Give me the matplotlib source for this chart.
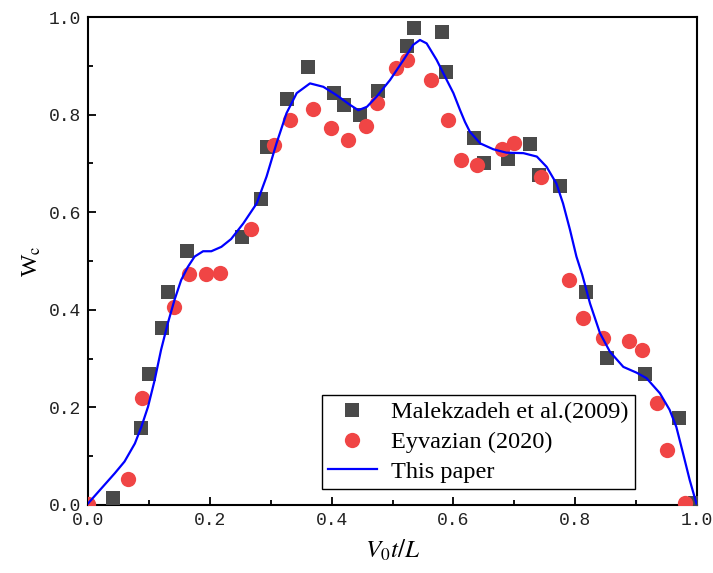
import matplotlib.pyplot as plt
from matplotlib.ticker import MultipleLocator

# Malekzadeh et al.(2009)
mal_x = [0.041, 0.087, 0.101, 0.1215, 0.132, 0.162, 0.253, 0.284, 0.294, 0.326,
         0.362, 0.404, 0.421, 0.447, 0.477, 0.523, 0.536, 0.582, 0.588, 0.633,
         0.650, 0.689, 0.725, 0.740, 0.775, 0.818, 0.853, 0.915, 0.971, 0.997]
mal_y = [0.015, 0.157, 0.268, 0.362, 0.437, 0.521, 0.550, 0.628, 0.734, 0.833,
         0.898, 0.845, 0.820, 0.799, 0.849, 0.941, 0.977, 0.969, 0.887, 0.752,
         0.700, 0.710, 0.739, 0.676, 0.653, 0.436, 0.301, 0.268, 0.178, 0.005]

# Eyvazian (2020)
eyv_x = [0.0, 0.065, 0.088, 0.141, 0.166, 0.193, 0.217, 0.267, 0.306, 0.331,
         0.369, 0.399, 0.427, 0.456, 0.474, 0.505, 0.524, 0.563, 0.591, 0.613,
         0.638, 0.679, 0.700, 0.744, 0.789, 0.812, 0.845, 0.888, 0.910, 0.935,
         0.951, 0.981]
eyv_y = [0.003, 0.053, 0.220, 0.406, 0.473, 0.473, 0.475, 0.565, 0.737, 0.789,
         0.812, 0.773, 0.748, 0.776, 0.823, 0.895, 0.911, 0.870, 0.788, 0.708,
         0.697, 0.730, 0.741, 0.672, 0.462, 0.383, 0.342, 0.337, 0.318, 0.210,
         0.113, 0.005]

# This paper (curve)
cur_x = [0.0, 0.022, 0.044, 0.060, 0.077, 0.0876, 0.0985, 0.1095, 0.120, 0.131,
         0.142, 0.153, 0.164, 0.175, 0.189, 0.2025, 0.219, 0.235, 0.255, 0.277,
         0.2932, 0.3095, 0.326, 0.3427, 0.3645, 0.3864, 0.408, 0.4302, 0.4439,
         0.458, 0.474, 0.496, 0.518, 0.534, 0.545, 0.556, 0.5725, 0.589, 0.6,
         0.611, 0.619, 0.627, 0.644, 0.6655, 0.687, 0.715, 0.737, 0.753, 0.769,
         0.780, 0.7914, 0.802, 0.8115, 0.8243, 0.8407, 0.857, 0.879, 0.901,
         0.917, 0.939, 0.955, 0.966, 0.977, 0.988, 0.999]
cur_y = [0.003, 0.034, 0.065, 0.089, 0.126, 0.160, 0.201, 0.256, 0.318, 0.372,
         0.420, 0.461, 0.488, 0.509, 0.520, 0.520, 0.529, 0.545, 0.577, 0.618,
         0.673, 0.741, 0.803, 0.844, 0.864, 0.857, 0.840, 0.820, 0.809,
         0.816, 0.837, 0.871, 0.912, 0.943, 0.953, 0.946, 0.912, 0.871, 0.844,
         0.809, 0.785, 0.765, 0.741, 0.729, 0.722, 0.721, 0.714, 0.693, 0.659,
         0.618, 0.564, 0.509, 0.472, 0.413, 0.352, 0.314, 0.283, 0.271,
         0.260, 0.229, 0.195, 0.160, 0.106, 0.051, 0.003]

plt.rcParams['font.family'] = ['Liberation Serif', 'DejaVu Serif']
plt.rcParams['mathtext.fontset'] = 'stix'

fig = plt.figure(figsize=(7.13, 5.73), dpi=100)
ax = fig.add_axes([0.1234, 0.1187, 0.8542, 0.8516])

ax.plot(mal_x, mal_y, 's', color='#4a4a4a', markersize=9.5, markeredgewidth=0,
        label='Malekzadeh et al.(2009)', zorder=3)
ax.plot(eyv_x, eyv_y, 'o', color='#f04545', markersize=11, markeredgewidth=0,
        label='Eyvazian (2020)', zorder=3)
ax.plot(cur_x, cur_y, '-', color='#0000ff', linewidth=1.6, label='This paper',
        zorder=4, solid_joinstyle='round')

ax.set_xlim(0, 1.0)
ax.set_ylim(0, 1.0)
ax.xaxis.set_major_locator(MultipleLocator(0.2))
ax.xaxis.set_minor_locator(MultipleLocator(0.1))
ax.yaxis.set_major_locator(MultipleLocator(0.2))
ax.yaxis.set_minor_locator(MultipleLocator(0.1))
ax.tick_params(which='both', direction='in', top=False, right=False, width=1.3)
ax.tick_params(which='major', length=6, pad=5)
ax.tick_params(which='minor', length=3.5)
for lab in ax.get_xticklabels() + ax.get_yticklabels():
    lab.set_family('Liberation Mono')
    lab.set_fontsize(13)
    lab.set_color('#222222')
for s in ax.spines.values():
    s.set_linewidth(1.5)

ax.set_xlabel('$V_0t/L$', fontsize=18, labelpad=6)
ax.set_ylabel('W$_\\mathrm{c}$', fontsize=17, labelpad=4)

leg = ax.legend(loc='lower right', bbox_to_anchor=(0.898, 0.033), fontsize=17.5,
                fancybox=False, edgecolor='black', framealpha=1,
                handlelength=2.0, borderpad=0.25, labelspacing=0.32,
                handletextpad=0.6, borderaxespad=0)
leg.get_frame().set_linewidth(1.0)

fig.savefig('out.png', dpi=100)
